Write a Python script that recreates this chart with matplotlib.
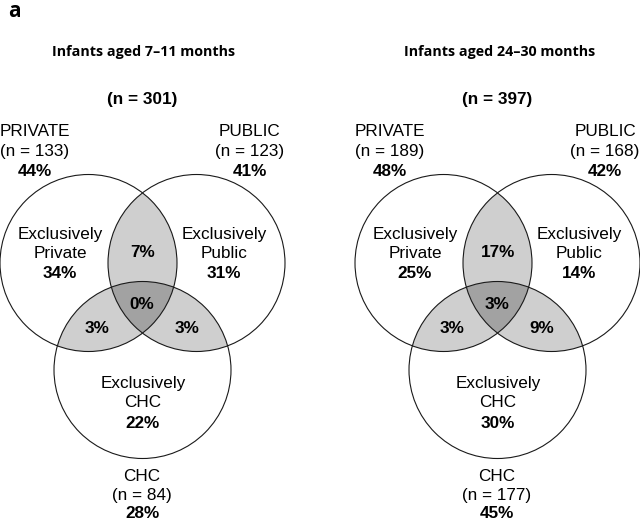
import numpy as np
import matplotlib
matplotlib.use('Agg')
import matplotlib.pyplot as plt
from matplotlib.patches import Circle, Polygon

# ---- data ----
groups = ['Infants aged 7\u201311 months', 'Infants aged 24\u201330 months']
totals = [301, 397]
private_n = [133, 189]
private_pct = [44, 48]
public_n = [123, 168]
public_pct = [41, 42]
chc_n = [84, 177]
chc_pct = [28, 45]
only_private = [34, 25]
only_public = [31, 14]
only_chc = [22, 30]
priv_pub = [7, 17]
priv_chc = [3, 3]
pub_chc = [3, 9]
all_three = [0, 3]

# ---- layout (pixel coordinates) ----
R = 88.5
offsets = [0, 355]
base_centers = [(88.5, 263), (196.5, 263), (142.5, 370)]
light = '#cfcfcf'
dark = '#a2a2a2'
edge = '#1a1a1a'
FS = 12.3
sans = 'Liberation Sans'


def intersection(circles):
    # convex intersection of circles, built from arc samples
    pts = []
    t = np.linspace(0, 2 * np.pi, 1440, endpoint=False)
    for i, (cx, cy) in enumerate(circles):
        p = np.c_[cx + R * np.cos(t), cy + R * np.sin(t)]
        keep = np.ones(len(p), bool)
        for j, (ox, oy) in enumerate(circles):
            if j != i:
                keep &= np.hypot(p[:, 0] - ox, p[:, 1] - oy) <= R + 1e-6
        pts.append(p[keep])
    pts = np.vstack(pts)
    c = pts.mean(axis=0)
    order = np.argsort(np.arctan2(pts[:, 1] - c[1], pts[:, 0] - c[0]))
    return pts[order]


fig = plt.figure(figsize=(6.4, 5.21), dpi=100)
ax = fig.add_axes([0, 0, 1, 1])
ax.set_xlim(0, 640)
ax.set_ylim(521, 0)
ax.axis('off')

ax.text(8, 17, 'a', fontsize=15, fontweight='bold', family='Open Sans',
        ha='left', va='baseline')

for g, off in enumerate(offsets):
    cs = [(x + off, y) for x, y in base_centers]
    A, B, C = cs
    for pair in [(A, B), (A, C), (B, C)]:
        ax.add_patch(Polygon(intersection(list(pair)), closed=True,
                             facecolor=light, edgecolor='none', zorder=1))
    ax.add_patch(Polygon(intersection(cs), closed=True,
                         facecolor=dark, edgecolor='none', zorder=2))
    for c in cs:
        ax.add_patch(Circle(c, R, facecolor='none', edgecolor=edge,
                            linewidth=0.8, zorder=3))

    def t(x, y, s, bold=False, size=FS):
        ax.text(x + off, y, s, ha='center', va='baseline', fontsize=size,
                family=sans, fontweight='bold' if bold else 'normal', zorder=4)

    ax.text((144 if g == 0 else 145) + off, 56, groups[g], ha='center',
            va='baseline', fontsize=10.3, fontweight='bold', family='Open Sans')
    t(142, 104, '(n = %d)' % totals[g], bold=True, size=12.3)

    # outer set labels
    t(35, 136, 'PRIVATE')
    t(35, 156, '(n = %d)' % private_n[g])
    t(35, 176, '%d%%' % private_pct[g], bold=True)
    t(250, 136, 'PUBLIC')
    t(250, 156, '(n = %d)' % public_n[g])
    t(250, 176, '%d%%' % public_pct[g], bold=True)
    t(142, 481, 'CHC')
    t(142, 500, '(n = %d)' % chc_n[g])
    t(142, 518, '%d%%' % chc_pct[g], bold=True)

    # region labels
    t(60, 239, 'Exclusively')
    t(60, 258, 'Private')
    t(60, 278, '%d%%' % only_private[g], bold=True)
    t(224, 239, 'Exclusively')
    t(224, 258, 'Public')
    t(224, 278, '%d%%' % only_public[g], bold=True)
    t(143, 388, 'Exclusively')
    t(143, 407, 'CHC')
    t(143, 428, '%d%%' % only_chc[g], bold=True)
    t(143, 257, '%d%%' % priv_pub[g], bold=True)
    t(142, 309, '%d%%' % all_three[g], bold=True)
    t(97, 333, '%d%%' % priv_chc[g], bold=True)
    t(187, 333, '%d%%' % pub_chc[g], bold=True)

fig.savefig('out.png', dpi=100, facecolor='white')
